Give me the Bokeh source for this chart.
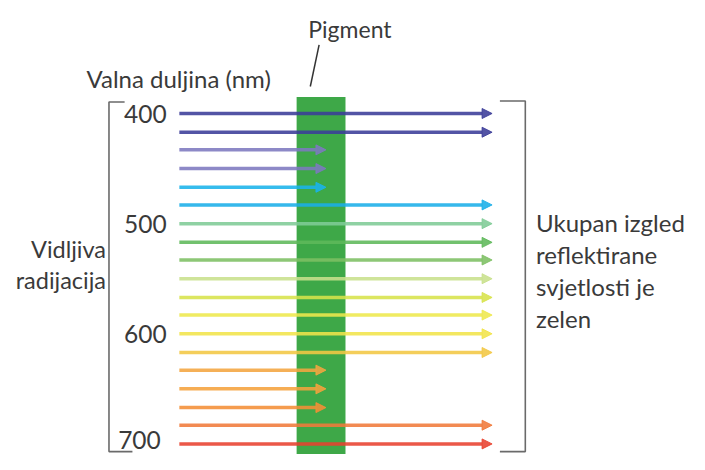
from bokeh.plotting import figure
from bokeh.models import Range1d, Arrow, NormalHead
from bokeh.embed import file_html
from bokeh.resources import INLINE
from bokeh.core.properties import value

# ---- data ----
wavelengths = [400, 417, 433, 450, 467, 483, 500, 517, 533, 550,
               567, 583, 600, 617, 633, 650, 667, 683, 700]
reflected = [True, True, False, False, False, True, True, True, True, True,
             True, True, True, True, False, False, False, True, True]
colors = ["#3b3c98", "#3b3c98", "#7d79bf", "#7d79bf", "#1ab3ea", "#1aaee8",
          "#80cb96", "#5fb85a", "#7dbf63", "#c8e08c", "#d7e24a", "#eee84c",
          "#f1e44a", "#f3c743", "#f4a540", "#f5a23c", "#f48e36", "#f07a3a",
          "#e8412f"]
tick_values = [400, 500, 600, 700]
tick_labels = ["400", "500", "600", "700"]
axis_title = "Valna duljina (nm)"
pigment_label = "Pigment"
left_label = ["Vidljiva", "radijacija"]
right_label = ["Ukupan izgled", "reflektirane", "svjetlosti je", "zelen"]

# ---- layout constants (pixel-space of the picture) ----
FONT = value("Lato")
TXT = "#3a3a3a"
X0, X_ABS, X_REF = 183, 333, 503
BAR_L, BAR_R, BAR_TOP = 303, 353, 100

p = figure(width=689, height=454, output_backend="svg", toolbar_location=None,
           x_range=Range1d(0, 705), y_range=Range1d(709.6, 297.4),
           min_border=0, outline_line_color=None, background_fill_color="white",
           border_fill_color="white")
p.axis.visible = False
p.grid.visible = False
p.extra_y_ranges = {"px": Range1d(470, 0)}

# pigment bar
p.quad(left=[BAR_L], right=[BAR_R], top=[BAR_TOP], bottom=[480],
       fill_color="#3ea848", line_color=None, y_range_name="px")

# arrows
for w, r, c in zip(wavelengths, reflected, colors):
    xe = X_REF if r else X_ABS
    p.add_layout(Arrow(x_start=X0, y_start=w, x_end=xe, y_end=w,
                       line_color=c, line_width=3.5, line_alpha=0.88,
                       end=NormalHead(size=10, fill_color=c, line_color=c,
                                      fill_alpha=0.88, line_alpha=0.88)))

# brackets
gray = "#6a6a6a"
p.line(x=[127, 111, 111, 135], y=[105, 105, 467, 467], line_color=gray,
       line_width=1.6, y_range_name="px")
p.line(x=[511, 537, 537, 511], y=[104, 104, 467, 467], line_color=gray,
       line_width=1.6, y_range_name="px")

# pigment pointer
p.line(x=[326, 317], y=[46, 89], line_color="#333333", line_width=1.5,
       y_range_name="px")

# tick labels
for v, lab in zip(tick_values, tick_labels):
    last = v == tick_values[-1]
    p.text(x=[164 if last else 170], y=[v], text=[lab], text_font=FONT,
           text_font_size="24.5px", text_color=TXT, text_align="right",
           text_baseline="middle", y_offset=-4 if last else 0)

# titles
p.text(x=[315], y=[30], text=[pigment_label], text_font=FONT,
       text_font_size="23px", text_color=TXT, text_align="left",
       text_baseline="alphabetic", y_range_name="px")
p.text(x=[88], y=[81], text=[axis_title], text_font=FONT,
       text_font_size="24px", text_color=TXT, text_align="left",
       text_baseline="alphabetic", y_range_name="px")
p.text(x=[108, 108], y=[257, 289], text=left_label, text_font=FONT,
       text_font_size="23.5px", text_color=TXT, text_align="right",
       text_baseline="alphabetic", y_range_name="px")
p.text(x=[548] * 4, y=[230, 263, 296, 329], text=right_label, text_font=FONT,
       text_font_size="24px", text_color=TXT, text_align="left",
       text_baseline="alphabetic", y_range_name="px")

open("out.html", "w").write(file_html(p, INLINE))
